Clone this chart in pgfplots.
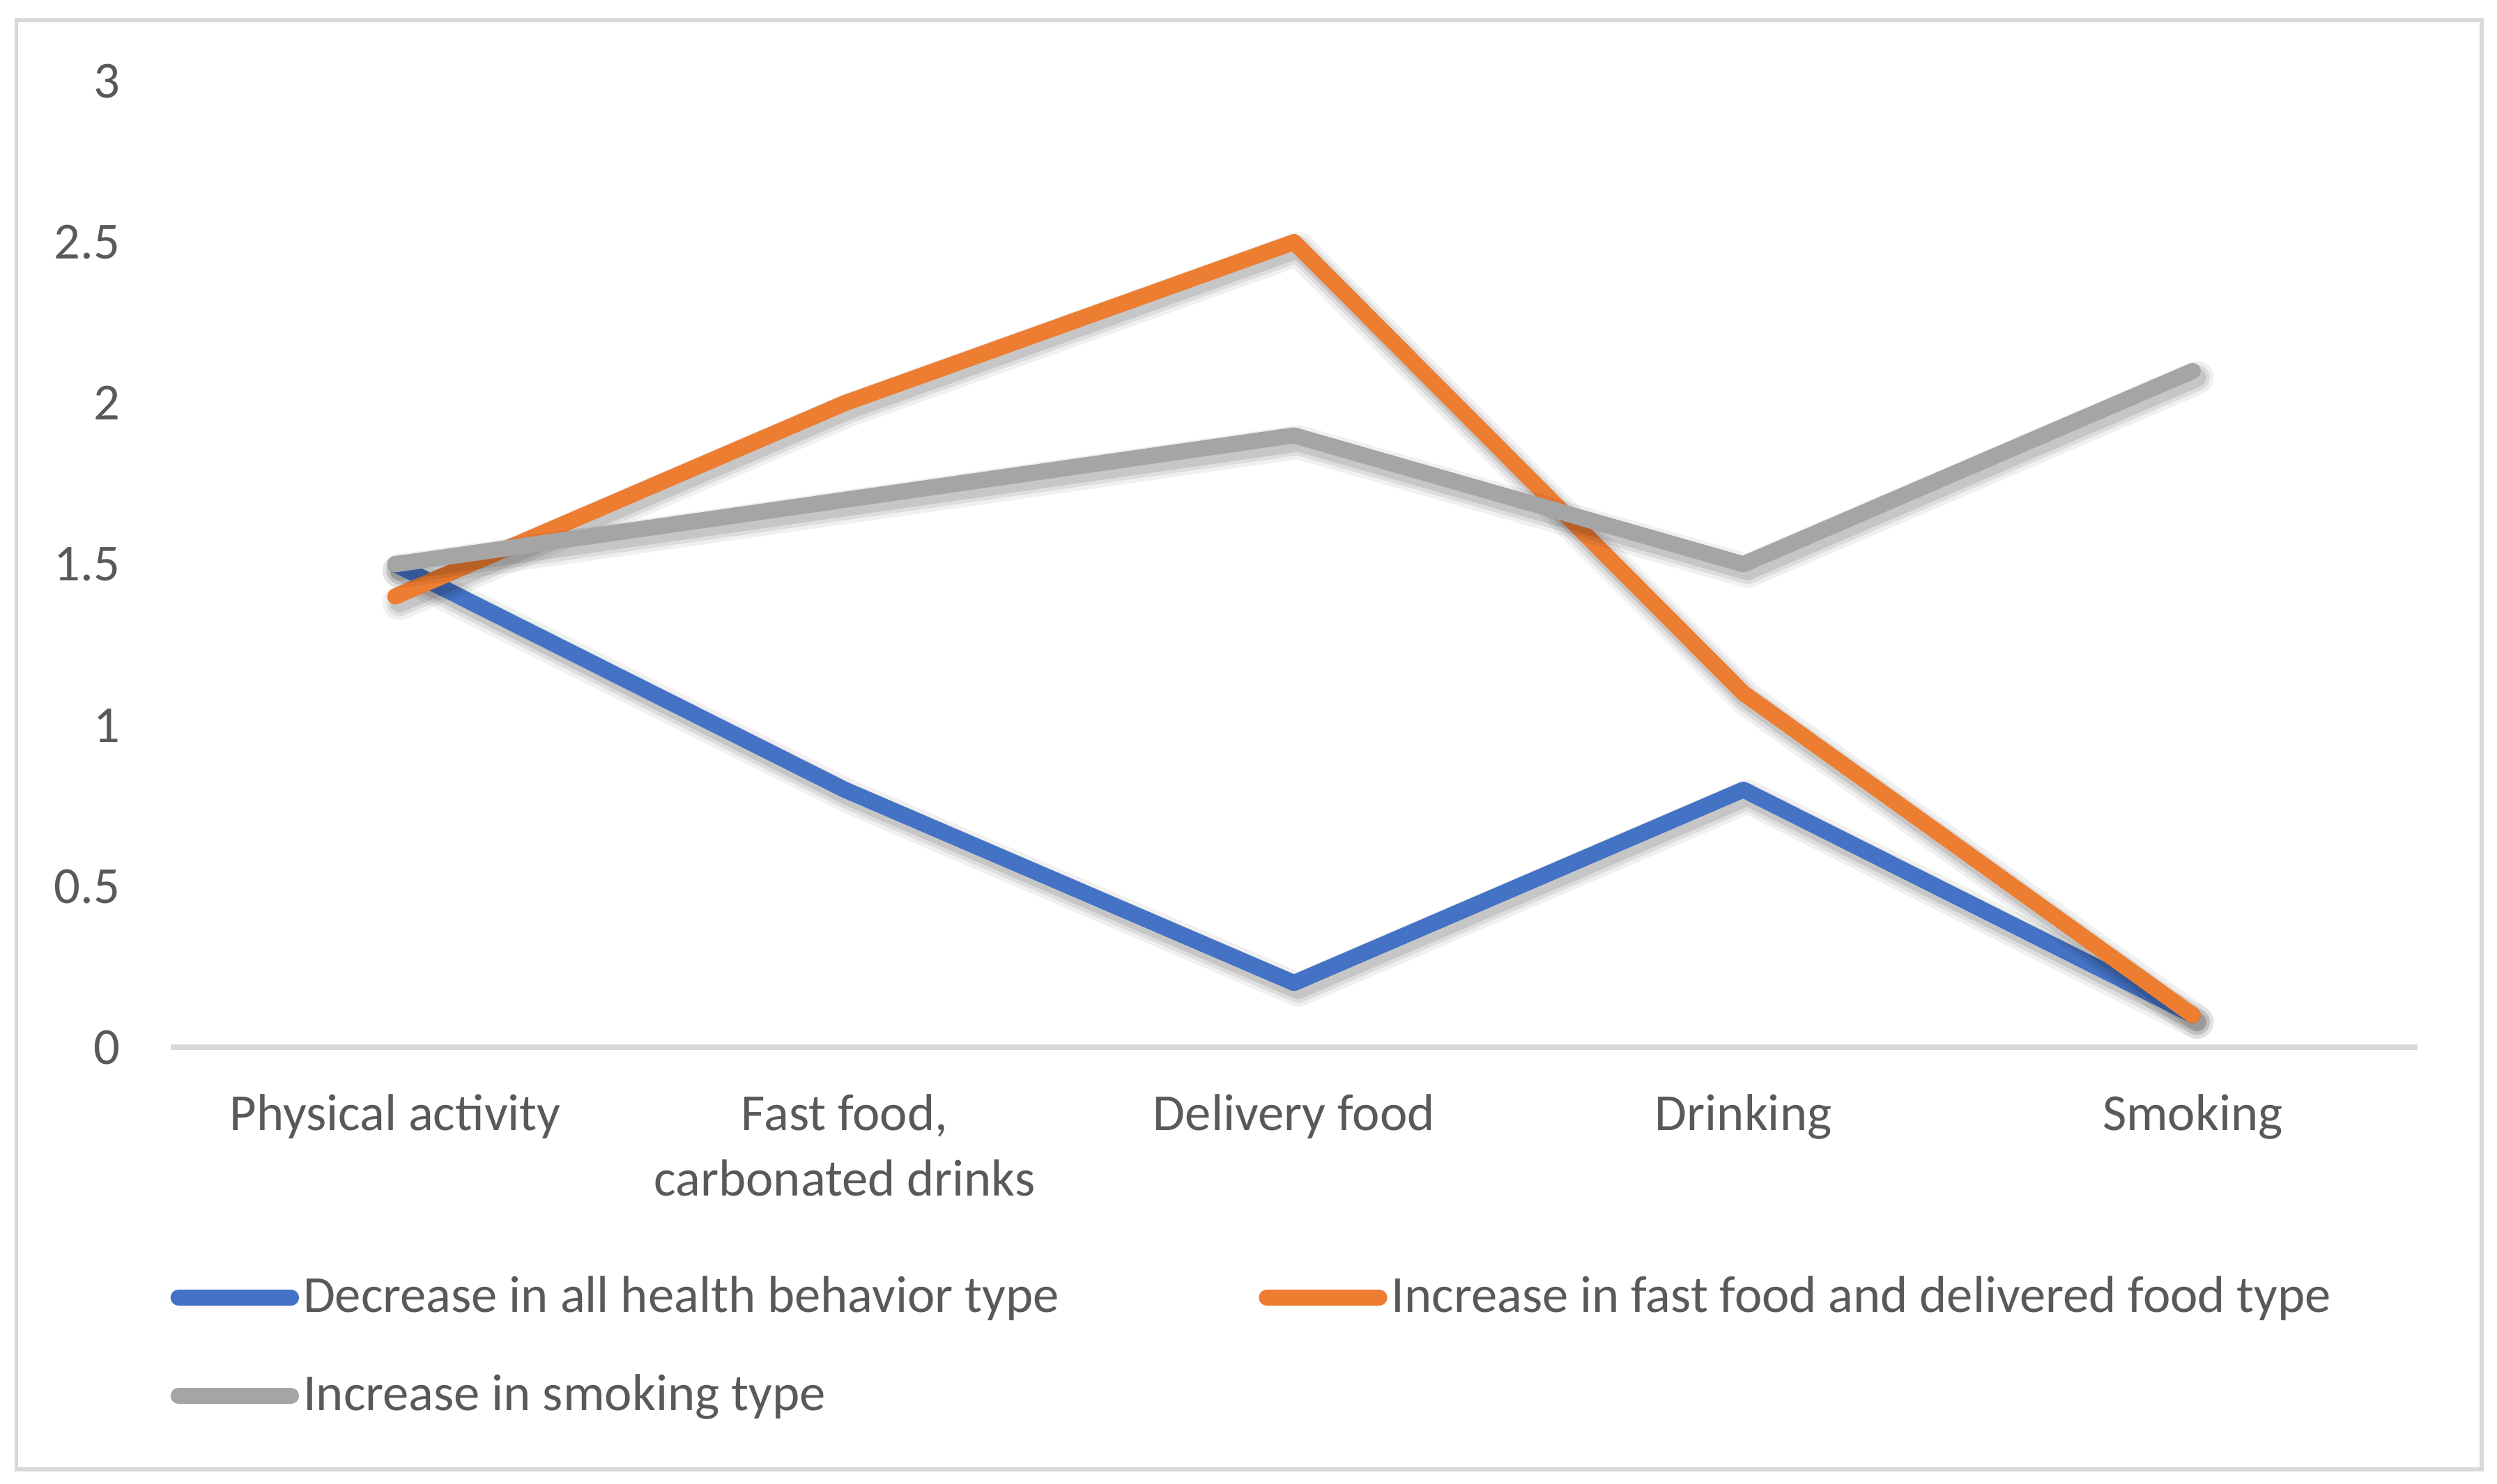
\documentclass[border=0pt]{standalone}
\usepackage{fontspec}
\setmainfont{Carlito}
\usepackage{pgfplots}
\usepackage{pgfplotstable}
\pgfplotsset{compat=1.18}
\definecolor{cblue}{HTML}{4472C4}
\definecolor{corange}{HTML}{ED7D31}
\definecolor{cgray}{HTML}{A5A5A5}
\definecolor{ctext}{HTML}{595959}
\definecolor{cline}{HTML}{D9D9D9}
\pgfplotstableread{
x blue orange gray
0 1.5 1.4 1.5
1 0.8 2.0 1.7
2 0.2 2.5 1.9
3 0.8 1.1 1.5
4 0.1 0.1 2.1
}\datatable
\pgfplotsset{
  shA/.style={forget plot, black, opacity=0.06, line width=6.5pt, line cap=round, line join=round, xshift=0.8pt, yshift=-1.3pt},
  shB/.style={forget plot, black, opacity=0.08, line width=5pt, line cap=round, line join=round, xshift=0.8pt, yshift=-1.3pt},
  shC/.style={forget plot, black, opacity=0.10, line width=3.6pt, line cap=round, line join=round, xshift=0.8pt, yshift=-1.3pt},
  mainline/.style={line width=3.1pt, line cap=round, line join=round},
}
\begin{document}
\begin{tikzpicture}
\useasboundingbox (0,0) rectangle (480pt,285.3pt);
\draw[cline, line width=0.8pt] (3.15pt,2.7pt) rectangle (477.1pt,281.4pt);
\begin{axis}[
  at={(32.8pt,83.9pt)}, anchor=south west,
  scale only axis, width=431.9pt, height=185.8pt,
  xmin=-0.5, xmax=4.5, ymin=0, ymax=3,
  clip=false,
  axis x line*=bottom, axis y line*=left,
  x axis line style={draw=cline, line width=1.1pt, -},
  y axis line style={draw=none},
  xtick={0,1,2,3,4},
  xticklabels={Physical activity, {Fast food,\\carbonated drinks}, Delivery food, Drinking, Smoking},
  ytick={0,0.5,1,1.5,2,2.5,3},
  major tick length=0pt,
  tick style={draw=none},
  /pgf/number format/assume math mode=true,
  tick label style={font=\fontsize{10}{12.6}\selectfont, text=ctext},
  xticklabel style={align=center, anchor=north, yshift=-5.5pt},
  yticklabel style={anchor=east, inner xsep=0pt, xshift=-9.5pt},
  legend columns=2,
  legend cell align=left,
  legend image code/.code={\draw[line width=3.1pt, line cap=round] (0pt,0pt) -- (21.6pt,0pt);},
  legend style={at={(-0.0005,-0.232)}, anchor=north west, draw=none, fill=none,
    inner sep=0pt, column sep=0.8pt, row sep=9.3pt,
    font=\fontsize{10}{12}\selectfont, text=ctext,
    nodes={inner sep=0pt, text height=7.6pt, text depth=2pt},
    /tikz/every even column/.append style={column sep=38.4pt}},
]
\addplot[shA] table[x=x,y=blue]{\datatable};
\addplot[shB] table[x=x,y=blue]{\datatable};
\addplot[shC] table[x=x,y=blue]{\datatable};
\addplot[mainline, cblue] table[x=x,y=blue]{\datatable};
\addlegendentry{Decrease in all health behavior type}
\addplot[shA] table[x=x,y=orange]{\datatable};
\addplot[shB] table[x=x,y=orange]{\datatable};
\addplot[shC] table[x=x,y=orange]{\datatable};
\addplot[mainline, corange] table[x=x,y=orange]{\datatable};
\addlegendentry{Increase in fast food and delivered food type}
\addplot[shA] table[x=x,y=gray]{\datatable};
\addplot[shB] table[x=x,y=gray]{\datatable};
\addplot[shC] table[x=x,y=gray]{\datatable};
\addplot[mainline, cgray] table[x=x,y=gray]{\datatable};
\addlegendentry{Increase in smoking type}
\end{axis}
\end{tikzpicture}
\end{document}
